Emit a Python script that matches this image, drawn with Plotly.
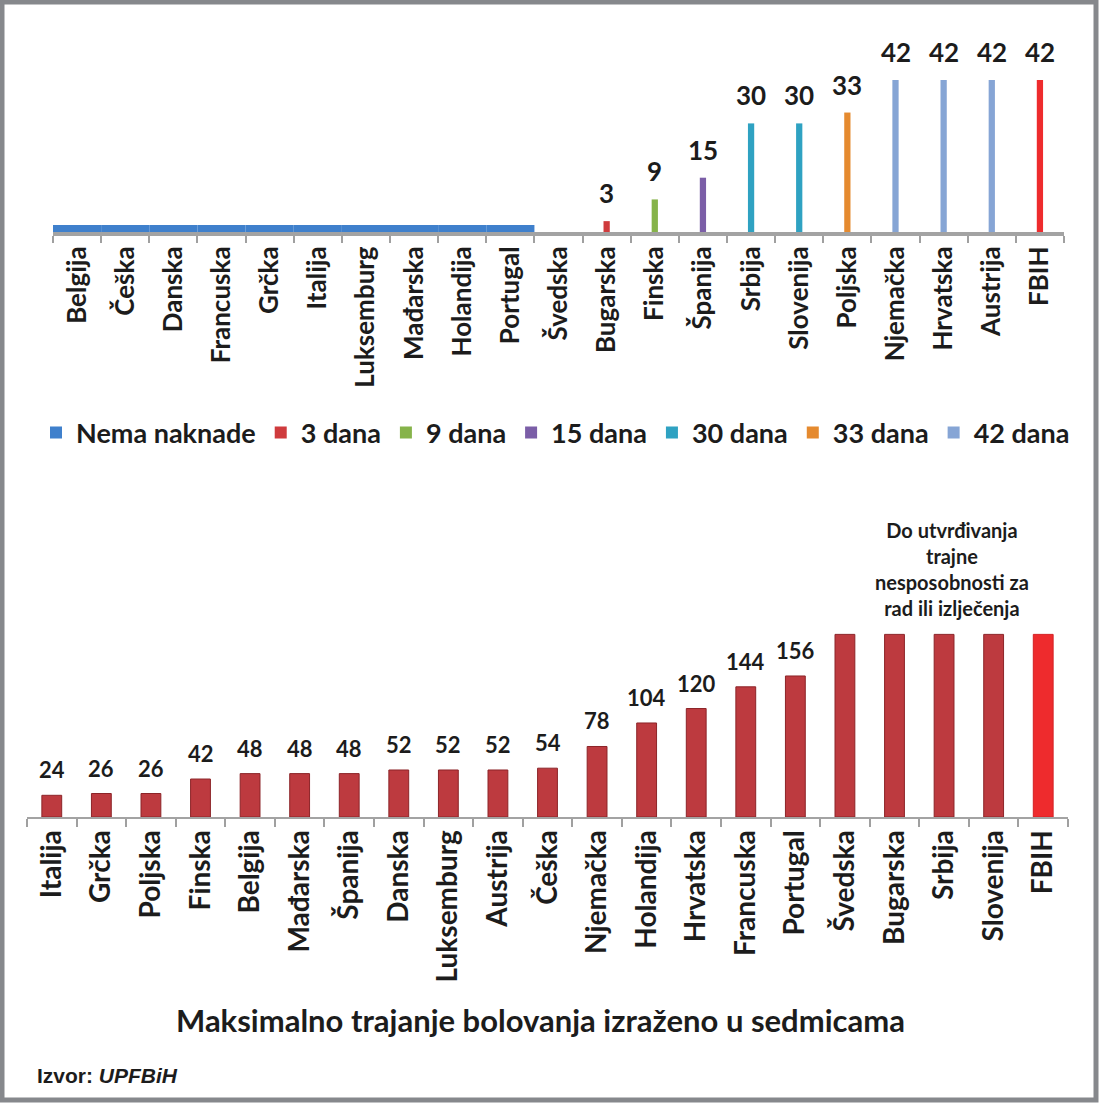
import plotly.graph_objects as go

W, H = 1102, 1104

# gornji grafikon: broj dana bez naknade
gornje_zemlje = ["Belgija", "Češka", "Danska", "Francuska", "Grčka", "Italija", "Luksemburg",
                 "Mađarska", "Holandija", "Portugal", "Švedska", "Bugarska", "Finska", "Španija",
                 "Srbija", "Slovenija", "Poljska", "Njemačka", "Hrvatska", "Austrija", "FBIH"]
gornji_dani = [0, 0, 0, 0, 0, 0, 0, 0, 0, 0, None, 3, 9, 15, 30, 30, 33, 42, 42, 42, 42]
gornje_grupe = ["Nema naknade"] * 10 + [None, "3 dana", "9 dana", "15 dana", "30 dana", "30 dana",
                                         "33 dana", "42 dana", "42 dana", "42 dana", "FBIH"]
legenda = ["Nema naknade", "3 dana", "9 dana", "15 dana", "30 dana", "33 dana", "42 dana"]

# donji grafikon: maksimalno trajanje bolovanja (sedmice)
donje_zemlje = ["Italija", "Grčka", "Poljska", "Finska", "Belgija", "Mađarska", "Španija", "Danska",
                "Luksemburg", "Austrija", "Češka", "Njemačka", "Holandija", "Hrvatska", "Francuska",
                "Portugal", "Švedska", "Bugarska", "Srbija", "Slovenija", "FBIH"]
donje_sedmice = [24, 26, 26, 42, 48, 48, 48, 52, 52, 52, 54, 78, 104, 120, 144, 156,
                 None, None, None, None, None]
neograniceno = 202  # visina stupca "do utvrdjivanja..."

boje = {"Nema naknade": "#3f80cc", "3 dana": "#cf3b3d", "9 dana": "#86b34a", "15 dana": "#7b5ea7",
        "30 dana": "#2fa2c2", "33 dana": "#e58a2f", "42 dana": "#86a5d5", "FBIH": "#ee2b2d"}

FONT = "Lato"
TAMNA = "#1c1c1c"


def px_x(p):
  return p / W


def px_y(p):
  return 1 - p / H


fig = go.Figure()

# gornji stupci
for g in legenda + ["FBIH"]:
  xs = [z for z, gr in zip(gornje_zemlje, gornje_grupe) if gr == g]
  ys = [d for d, gr in zip(gornji_dani, gornje_grupe) if gr == g]
  if g == "Nema naknade":
    # nema naknade -> ravna traka uz os
    fig.add_trace(go.Bar(x=xs, y=[1.9] * len(xs), width=1.0, name=g, marker_color=boje[g],
        marker_line_width=0, xaxis="x", yaxis="y", showlegend=True))
  else:
    fig.add_trace(go.Bar(x=xs, y=ys, width=0.13, name=g, marker_color=boje[g],
        marker_line_width=0, xaxis="x", yaxis="y", showlegend=(g != "FBIH")))

for z, d in zip(gornje_zemlje, gornji_dani):
  if d:
    fig.add_annotation(x=z, y=d, xref="x", yref="y", text="<b>{}</b>".format(d), showarrow=False,
        yanchor="bottom", yshift=10, font=dict(family=FONT, size=26, color=TAMNA))

# donji stupci
visine = [s if s is not None else neograniceno for s in donje_sedmice]
boje_donje = ["#ee2b2d" if z == "FBIH" else "#bd3a3f" for z in donje_zemlje]
linije_donje = ["#d42024" if z == "FBIH" else "#8c2428" for z in donje_zemlje]
fig.add_trace(go.Bar(x=donje_zemlje, y=visine, width=0.4, marker_color=boje_donje,
    marker_line_color=linije_donje, marker_line_width=1, xaxis="x2", yaxis="y2", showlegend=False))

for z, s in zip(donje_zemlje, donje_sedmice):
  if s is not None:
    fig.add_annotation(x=z, y=s, xref="x2", yref="y2", text="<b>{}</b>".format(s), showarrow=False,
        yanchor="bottom", yshift=10, font=dict(family=FONT, size=22, color=TAMNA))

fig.add_annotation(x="Srbija", y=neograniceno, xref="x2", yref="y2", xshift=8, yshift=12,
    text="<b>Do utvrđivanja<br>trajne<br>nesposobnosti za<br>rad ili izlječenja</b>",
    showarrow=False, yanchor="bottom", align="center",
    font=dict(family=FONT, size=20, color=TAMNA))

fig.add_annotation(x=px_x(540), y=px_y(1020), xref="paper", yref="paper", yanchor="middle",
    text="<b>Maksimalno trajanje bolovanja izraženo u sedmicama</b>", showarrow=False,
    font=dict(family=FONT, size=31, color=TAMNA))

fig.add_annotation(x=px_x(35), y=px_y(1075), xref="paper", yref="paper", xanchor="left", yanchor="middle",
    text="<b>Izvor: <i>UPFBiH</i></b>", showarrow=False,
    font=dict(family="Liberation Sans", size=21, color=TAMNA))

# okvir
fig.add_shape(type="rect", xref="paper", yref="paper", x0=px_x(2), x1=px_x(1096), y0=px_y(1100), y1=px_y(2),
    line=dict(color="#86888c", width=5), fillcolor="rgba(0,0,0,0)")

fig.update_layout(
    template="none",
    width=W, height=H,
    margin=dict(l=0, r=0, t=0, b=0),
    paper_bgcolor="white", plot_bgcolor="white",
    barmode="overlay",
    font=dict(family=FONT, color=TAMNA),
    legend=dict(orientation="h", x=px_x(36), y=px_y(433), xanchor="left", yanchor="middle",
        font=dict(family=FONT, size=27, color=TAMNA, weight="bold"), itemwidth=30,
        traceorder="normal", bgcolor="rgba(0,0,0,0)"),
    xaxis=dict(domain=[px_x(53), px_x(1064)], type="category", categoryorder="array",
        categoryarray=gornje_zemlje, tickangle=-90, tickson="boundaries", ticks="outside",
        ticklen=7, tickwidth=2, tickcolor="#a0a0a0", showline=True, linecolor="#a3a3a3", linewidth=4,
        showgrid=False, zeroline=False, automargin=False,
        tickfont=dict(family=FONT, size=26, color=TAMNA, weight="bold"), anchor="y"),
    yaxis=dict(domain=[px_y(232), px_y(30)], range=[0, (232 - 30) / 3.62], visible=False,
        showgrid=False, zeroline=False, anchor="x"),
    xaxis2=dict(domain=[px_x(27), px_x(1068)], type="category", categoryorder="array",
        categoryarray=donje_zemlje, tickangle=-90, tickson="boundaries", ticks="outside",
        ticklen=8, tickwidth=2, tickcolor="#a0a0a0", showline=True, linecolor="#a3a3a3", linewidth=2,
        showgrid=False, zeroline=False, automargin=False,
        tickfont=dict(family=FONT, size=28, color=TAMNA, weight="bold"), anchor="y2"),
    yaxis2=dict(domain=[px_y(817), px_y(600)], range=[0, (817 - 600) / 0.904], visible=False,
        showgrid=False, zeroline=False, anchor="x2"),
)

# bez podrazumijevane margine stranice
fig.write_html("out.html", config={"displayModeBar": False},
    post_script="document.body.style.margin='0';")
